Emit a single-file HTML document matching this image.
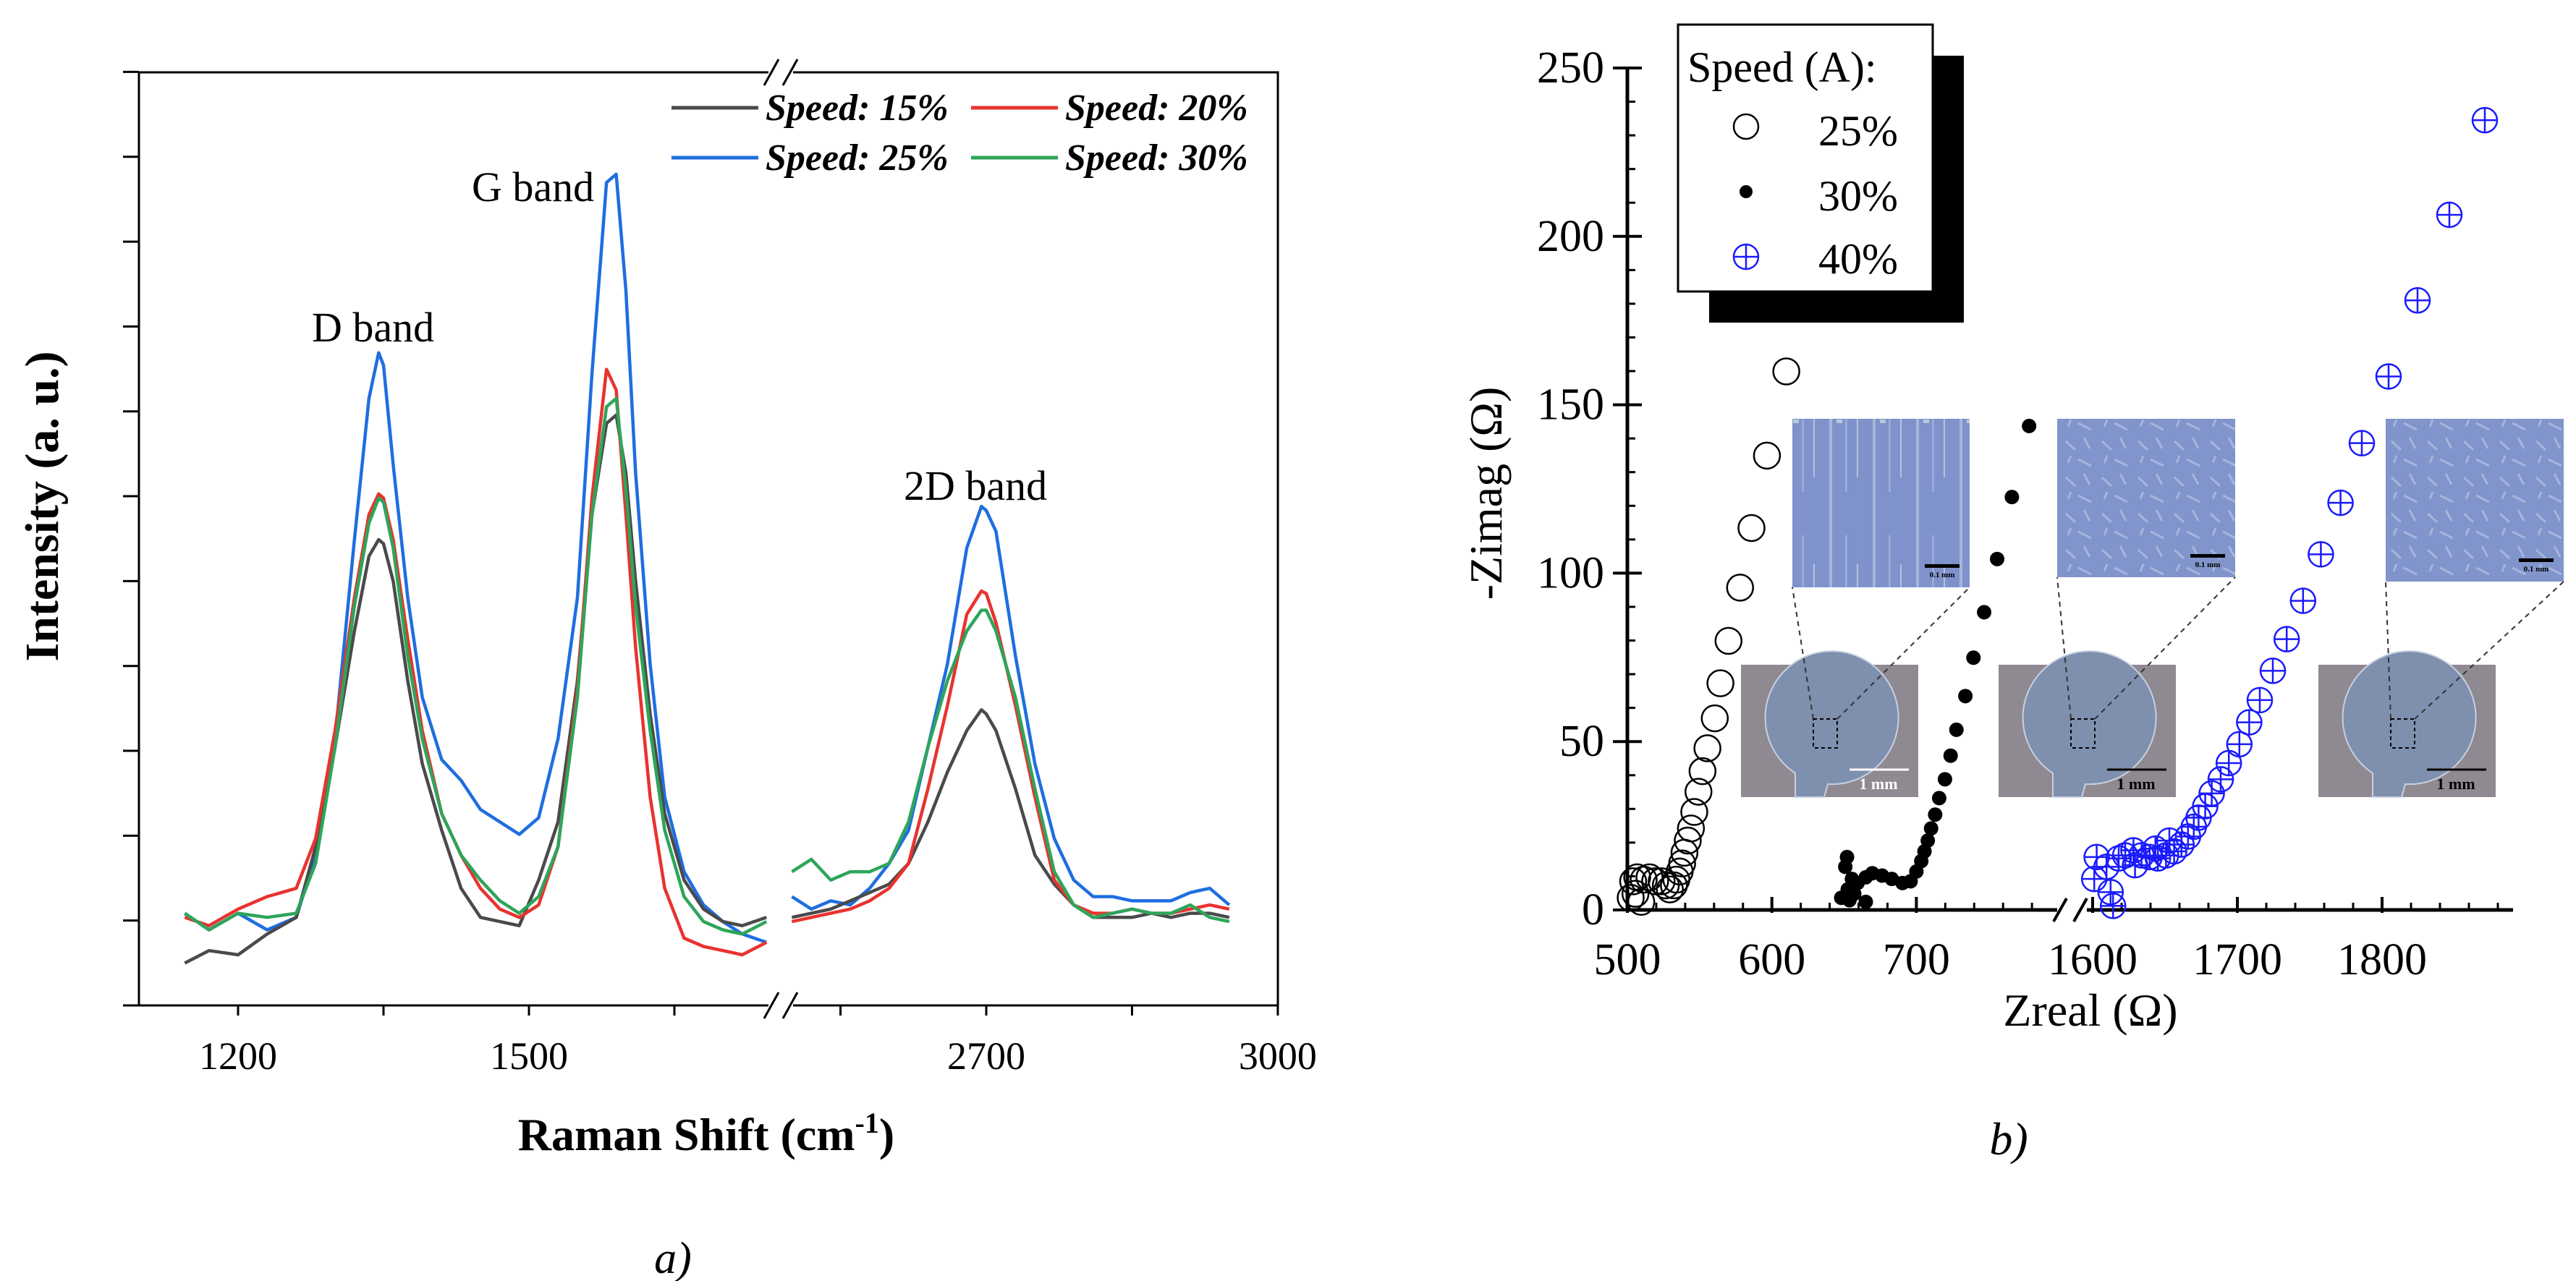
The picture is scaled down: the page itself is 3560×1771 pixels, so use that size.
<!DOCTYPE html>
<html><head><meta charset="utf-8"><style>
html,body{margin:0;padding:0;background:#fff;}
svg{display:block;}
text{font-family:"Liberation Serif",serif;}
</style></head><body>
<svg id="fig" width="3560" height="1771" viewBox="0 0 3560 1771" xmlns="http://www.w3.org/2000/svg">
<defs>
<pattern id="streaks" width="60" height="240" patternUnits="userSpaceOnUse">
<rect width="60" height="240" fill="#8092cb"/>
<rect x="8" y="0" width="4" height="240" fill="#b5c6e0" opacity="0.7"/>
<rect x="30" y="20" width="3" height="180" fill="#a9bde0" opacity="0.6"/>
<rect x="46" y="60" width="2" height="120" fill="#d7e6e6" opacity="0.6"/>
<rect x="18" y="100" width="8" height="5" fill="#dfeede" opacity="0.6"/>
</pattern>
<pattern id="flakes" width="50" height="50" patternUnits="userSpaceOnUse">
<rect width="50" height="50" fill="#8194cb"/>
<path d="M5 10 L18 22 M30 5 L38 20 M22 35 L40 44 M8 40 L12 30" stroke="#b3c5e2" stroke-width="3" opacity="0.7"/>
</pattern>
</defs>
<g id="chartA"></g>
<g id="chartB"></g>
</svg>
<script>
// ===== Chart a) Raman spectra =====
const wnLeft = [1145,1170,1200,1230,1260,1280,1300,1320,1335,1345,1350,1360,1375,1390,1410,1430,1450,1470,1490,1510,1530,1550,1565,1580,1590,1600,1610,1625,1640,1660,1680,1700,1720,1745];
const wnRight = [2500,2520,2540,2560,2580,2600,2620,2640,2660,2680,2695,2700,2710,2730,2750,2770,2790,2810,2830,2850,2870,2890,2910,2930,2950];
const s15L = [51,66,61,86,106,191,311,451,541,561,556,511,391,291,211,141,106,101,96,151,221,391,591,701,711,641,511,351,231,151,116,101,96,106];
const s20L = [106,96,116,131,141,201,331,491,591,616,611,561,441,331,231,181,141,116,106,121,191,381,611,766,741,591,431,251,141,81,71,66,61,76];
const s25L = [111,91,111,91,106,181,321,561,731,786,771,651,491,371,296,271,236,221,206,226,321,491,761,991,1001,861,641,411,251,161,121,101,86,76];
const s30L = [111,91,111,106,111,171,311,481,581,611,606,551,421,321,231,181,151,126,111,131,191,371,591,721,731,621,481,331,211,131,101,91,86,101];
const s15R = [106,111,116,126,136,146,171,221,281,331,356,351,331,261,181,146,121,106,106,106,111,106,111,111,106];
const s20R = [101,106,111,116,126,141,171,261,361,471,499,496,461,361,251,151,121,111,111,116,111,111,116,121,116];
const s25R = [131,116,126,121,141,171,211,311,411,551,601,596,571,421,291,201,151,131,131,126,126,126,136,141,121];
const s30R = [161,176,151,161,161,171,221,311,391,451,476,476,451,371,261,161,121,106,111,116,111,111,121,106,101];
const seriesNames = ["Speed: 15%","Speed: 20%","Speed: 25%","Speed: 30%"];
const seriesColors = ["#4a4a4a","#e8332f","#1f6ee0","#2ea55a"];
const xTicksLeft = [1200,1500];
const xMinorLeft = [1350,1650];
const xTicksRight = [2700,3000];
const xMinorRight = [2550,2850];
const yTickVals = [0,102.2,204.4,306.6,408.8,511,613.2,715.4,817.6,919.8,1022,1124.2];

// ===== Chart b) Impedance =====
const z25x = [610,596.6,585.9,578,570,564.4,560.5,555.4,552,549.2,546.3,544,541.8,539.5,537.9,536.2,533.9,532.2,529.4,526.6,523.7,519.2,515.3,511.3,506.8,504,502.3,505.6,509.6];
const z25y = [159.9,134.9,113.4,95.7,79.9,67.3,56.9,48,41.2,35.1,29.1,24.2,20.6,17,13.8,11.4,9,7.3,6.1,7.3,8.5,8.5,9.7,9,9.7,8.5,3.6,4.8,2.4];
const z30x = [778,766.1,755.9,746.9,739.5,733.9,727.7,723.7,719.8,715.8,713,710.2,707.9,705.6,703.4,700,696,690.4,683,676.3,669.5,665,659.3,655.4,652,650.8,652.5,657,653.7,648,665];
const z30y = [143.7,122.6,104.2,88.4,74.9,63.5,53.5,45.8,38.8,33.2,28.3,24.2,20.6,17.4,14.5,11.4,8.5,8,9.2,10.2,10.9,9.7,8,9.2,15.7,12.8,6.1,4.8,2.9,3.6,2.4];
const z40x = [1871,1846.5,1824.5,1804.5,1786,1771.3,1757.7,1745.4,1734.1,1724.5,1715.5,1708.2,1701.4,1694.1,1688.5,1682.3,1677.8,1673.2,1669.9,1665.9,1661.4,1656.3,1650.7,1645.1,1639.4,1633.8,1628.2,1622.5,1618,1609.6,1602.8,1601.1,1612.4,1614.1,1629.3,1643.4,1653];
const z40y = [234.5,206.4,181,158.4,138.6,120.9,105.6,91.8,80.4,71,62.3,55.7,49.2,43.6,38.8,34.6,30.8,27.4,24.7,21.8,19.4,17.4,16.2,15.3,15.7,16.2,17.7,16.2,15.3,12.8,15.7,9.2,5.3,1.2,13.3,18.2,20.6];
const bXTicksLeft = [500,600,700];
const bXTicksRight = [1600,1700,1800];
const bYTicks = [0,50,100,150,200,250];

const NS = "http://www.w3.org/2000/svg";
function mk(parent, tag, attrs, text) {
  const e = document.createElementNS(NS, tag);
  for (const k in attrs) e.setAttribute(k, attrs[k]);
  if (text !== undefined) e.textContent = text;
  parent.appendChild(e);
  return e;
}

// ---- chart A drawing ----
const A = document.getElementById('chartA');
const aTop = 100, aBot = 1390, aLeft = 192, aRight = 1766, brkL = 1062, brkR = 1096;
function axL(w){ return 329 + (w - 1200) * 1.34; }
function axR(w){ return 1363 + (w - 2700) * 1.343; }
function ay(v){ return aBot - v * 1.148; }

let e;
e = mk(A,'path',{d:`M${aLeft} ${aTop} L${brkL} ${aTop} M${brkR} ${aTop} L${aRight} ${aTop} L${aRight} ${aBot} L${brkR} ${aBot} M${brkL} ${aBot} L${aLeft} ${aBot} Z`,fill:'none',stroke:'#000','stroke-width':3});
 
e = mk(A,'line',{x1:aLeft,y1:aTop,x2:aLeft,y2:aBot,stroke:'#000','stroke-width':3});
 
[aTop,aBot].forEach(y=>{
  e = mk(A,'path',{d:`M${brkL-6} ${y+18} L${brkL+14} ${y-18} M${brkR-14} ${y+18} L${brkR+6} ${y-18}`,stroke:'#000','stroke-width':3,fill:'none'});
   
});
yTickVals.forEach(v=>{
  e = mk(A,'line',{x1:aLeft-22,y1:ay(v),x2:aLeft,y2:ay(v),stroke:'#000','stroke-width':3});
   
});
function xTick(x, lab){
  e = mk(A,'line',{x1:x,y1:aBot,x2:x,y2:aBot+14,stroke:'#000','stroke-width':3});
   
  if (lab !== undefined){
    e = mk(A,'text',{x:x,y:1478,'font-size':54,'text-anchor':'middle'},lab);
     
  }
}
xTicksLeft.forEach(w=>xTick(axL(w), String(w)));
xMinorLeft.forEach(w=>xTick(axL(w)));
xTicksRight.forEach(w=>xTick(axR(w), String(w)));
xMinorRight.forEach(w=>xTick(axR(w)));

function line(xs, ys, fx, col, name){
  const d = xs.map((w,i)=>(i?'L':'M')+fx(w).toFixed(1)+' '+ay(ys[i]).toFixed(1)).join(' ');
  const p = mk(A,'path',{d:d,fill:'none',stroke:col,'stroke-width':4.5,'stroke-linejoin':'round'});
  
  
}
const leftSets=[s15L,s20L,s25L,s30L], rightSets=[s15R,s20R,s25R,s30R];
[2,0,1,3].forEach(i=>{
  line(wnLeft, leftSets[i], axL, seriesColors[i], 'spectrum-line-left');
  line(wnRight, rightSets[i], axR, seriesColors[i], 'spectrum-line-right');
});

// legend
const legPos=[[932,149],[1346,149],[932,218],[1346,218]];
seriesNames.forEach((n,i)=>{
  const [lx,ly]=legPos[i];
  e = mk(A,'line',{x1:lx-4,y1:ly,x2:lx+116,y2:ly,stroke:seriesColors[i],'stroke-width':5});
   
  e = mk(A,'text',{x:lx+126,y:ly+17,'font-size':52,'font-weight':'bold','font-style':'italic'},n);
   
});
e = mk(A,'text',{x:431,y:472,'font-size':58},'D band');
 
e = mk(A,'text',{x:652,y:278,'font-size':58},'G band');
 
e = mk(A,'text',{x:1249,y:691,'font-size':58},'2D band');
 
e = mk(A,'text',{x:976,y:1590,'font-size':64,'font-weight':'bold','text-anchor':'middle'});
 
e.innerHTML='Raman Shift (cm<tspan dy="-24" font-size="40">-1</tspan><tspan dy="24">)</tspan>';
e = mk(A,'text',{x:0,y:0,'font-size':66,'font-weight':'bold','text-anchor':'middle',transform:'translate(80 700) rotate(-90)'},'Intensity (a. u.)');
 
e = mk(A,'text',{x:930,y:1760,'font-size':62,'font-style':'italic','text-anchor':'middle'},'a)');
 

// ---- chart B drawing ----
const B = document.getElementById('chartB');
const bx0 = 2249, by0 = 1258;
function bxL(v){ return bx0 + (v-500)*1.997; }
function bxR(v){ return 2892 + (v-1600)*2.0; }
function bx(v){ return v < 1200 ? bxL(v) : bxR(v); }
function by(v){ return by0 - v*4.656; }

const insets=[[2477,579,245,233,'streaks',2406,'#fff'],[2843,579,246,219,'flakes',2762,'#000'],[3297,579,246,225,'flakes',3204,'#000']];
insets.forEach(([tx,ty,tw,th,pat,px,col])=>{
  e = mk(B,'rect',{x:tx,y:ty,width:tw,height:th,fill:`url(#${pat})`});
   
  e = mk(B,'rect',{x:tx+tw-62,y:ty+th-32,width:48,height:5,fill:'#000'});
   
  e = mk(B,'text',{x:tx+tw-38,y:ty+th-14,'font-size':11,'font-family':'Liberation Sans','font-weight':'bold','text-anchor':'middle'},'0.1 mm');
   
  const py=919, pw=245, ph=183;
  e = mk(B,'rect',{x:px,y:py,width:pw,height:ph,fill:'#8f8a92'});
   
  e = mk(B,'path',{d:`M${px+75} ${py+ph} L${px+75} ${py+150} A92 92 0 1 1 ${px+120} ${py+165} L${px+115} ${py+ph} Z`,fill:'#7f8fae',stroke:'#c8d0e0','stroke-width':2});
   
  e = mk(B,'rect',{x:px+100,y:py+75,width:33,height:40,fill:'none',stroke:'#000','stroke-width':2,'stroke-dasharray':'5 4'});
   
  e = mk(B,'path',{d:`M${px+100} ${py+75} L${tx} ${ty+th} M${px+133} ${py+75} L${tx+tw} ${ty+th}`,stroke:'#333','stroke-width':2,'stroke-dasharray':'7 6',fill:'none'});
   
  e = mk(B,'line',{x1:px+150,y1:py+145,x2:px+232,y2:py+145,stroke:col,'stroke-width':3});
   
  e = mk(B,'text',{x:px+190,y:py+172,'font-size':22,'font-family':'Liberation Sans','font-weight':'bold','fill':col,'text-anchor':'middle'},'1 mm');
   
});

e = mk(B,'line',{x1:bx0,y1:by(250)-2,x2:bx0,y2:by0,stroke:'#000','stroke-width':5});
 
e = mk(B,'path',{d:`M${bx0} ${by0} L2843 ${by0} M2884 ${by0} L3473 ${by0}`,stroke:'#000','stroke-width':5,fill:'none'});
 
e = mk(B,'path',{d:`M2838 ${by0+16} L2856 ${by0-16} M2866 ${by0+16} L2884 ${by0-16}`,stroke:'#000','stroke-width':4,fill:'none'});
 
bYTicks.forEach(v=>{
  e = mk(B,'line',{x1:bx0-20,y1:by(v),x2:bx0+20,y2:by(v),stroke:'#000','stroke-width':4});
   
  e = mk(B,'text',{x:bx0-32,y:by(v)+20,'font-size':62,'text-anchor':'end'},String(v));
   
});
for(let v=10; v<250; v+=10){ if(v%50){
  e = mk(B,'line',{x1:bx0,y1:by(v),x2:bx0+11,y2:by(v),stroke:'#000','stroke-width':3});
   
}}
function bTick(x, lab){
  e = mk(B,'line',{x1:x,y1:by0-18,x2:x,y2:by0+4,stroke:'#000','stroke-width':4});
   
  e = mk(B,'text',{x:x,y:1347,'font-size':62,'text-anchor':'middle'},lab);
   
}
bXTicksLeft.forEach(v=>bTick(bxL(v),String(v)));
bXTicksRight.forEach(v=>bTick(bxR(v),String(v)));
for(let v=520; v<800; v+=20){ if(v%100){
  e = mk(B,'line',{x1:bxL(v),y1:by0-10,x2:bxL(v),y2:by0,stroke:'#000','stroke-width':3});
   
}}
for(let v=1620; v<1890; v+=20){ if(v%100){
  e = mk(B,'line',{x1:bxR(v),y1:by0-10,x2:bxR(v),y2:by0,stroke:'#000','stroke-width':3});
   
}}

z25x.forEach((v,i)=>{
  const c = mk(B,'circle',{cx:bx(v),cy:by(z25y[i]),r:18,fill:'none',stroke:'#000','stroke-width':2.5});
  
  
});
z30x.forEach((v,i)=>{
  const c = mk(B,'circle',{cx:bx(v),cy:by(z30y[i]),r:10,fill:'#000'});
  
  
});
z40x.forEach((v,i)=>{
  const cx=bx(v), cy=by(z40y[i]);
  const g = mk(B,'path',{d:`M${cx-17} ${cy} L${cx+17} ${cy} M${cx} ${cy-17} L${cx} ${cy+17} M${cx+17} ${cy} A17 17 0 1 1 ${cx+17} ${cy-0.01}`,fill:'none',stroke:'#1a1aff','stroke-width':2.5});
  
  
});

e = mk(B,'rect',{x:2362,y:77,width:352,height:369,fill:'#000'});
 
e = mk(B,'rect',{x:2319,y:34,width:352,height:369,fill:'#fff',stroke:'#000','stroke-width':3});
 
e = mk(B,'text',{x:2332,y:113,'font-size':60},'Speed (A):');
 
e = mk(B,'circle',{cx:2413,cy:175,r:17,fill:'none',stroke:'#000','stroke-width':2.5});
 
e = mk(B,'circle',{cx:2413,cy:265,r:9,fill:'#000'});
 
e = mk(B,'path',{d:'M2396 355 L2430 355 M2413 338 L2413 372 M2430 355 A17 17 0 1 1 2430 354.99',fill:'none',stroke:'#1a1aff','stroke-width':2.5});
 
[['25%',201],['30%',291],['40%',378]].forEach(([t,y])=>{
  e = mk(B,'text',{x:2513,y:y,'font-size':60},t);
   
});
e = mk(B,'text',{x:0,y:0,'font-size':64,'text-anchor':'middle',transform:'translate(2075 682) rotate(-90)'},'-Zimag (Ω)');
 
e = mk(B,'text',{x:2889,y:1418,'font-size':64,'text-anchor':'middle'},'Zreal (Ω)');
 
e = mk(B,'text',{x:2776,y:1596,'font-size':64,'font-style':'italic','text-anchor':'middle'},'b)');
 
</script>
</body></html>
